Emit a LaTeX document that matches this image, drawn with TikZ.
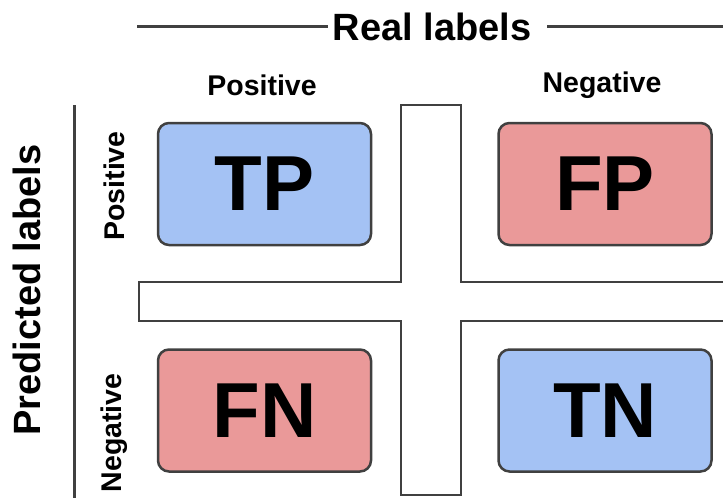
\documentclass[tikz,border=0pt]{standalone}
\usepackage{fontspec}
\setmainfont{Liberation Sans}
\definecolor{bluefill}{HTML}{A4C2F4}
\definecolor{redfill}{HTML}{EA9999}
\definecolor{strokec}{HTML}{404040}
\begin{document}
\begin{tikzpicture}[x=1pt,y=-1pt,
  cell/.style={draw=strokec,line width=2.5pt,rounded corners=11pt,minimum width=213pt,minimum height=122pt,inner sep=0pt,font=\fontsize{78}{80}\selectfont\bfseries},
  head/.style={font=\fontsize{38}{40}\selectfont\bfseries,inner sep=0pt},
  sub/.style={font=\fontsize{28.5}{30}\selectfont\bfseries,inner sep=0pt},
  rule/.style={draw=strokec,line width=3pt}]
\useasboundingbox (0,0) rectangle (723,498);
% cross
\draw[draw=strokec,line width=2.5pt,fill=white]
  (401,105) -- (461,105) -- (461,282) -- (724,282) -- (724,321) -- (461,321)
  -- (461,495) -- (401,495) -- (401,321) -- (139,321) -- (139,282) -- (401,282) -- cycle;
% cells
\node[cell,fill=bluefill] (tp) at (264.5,184) {TP};
\node[cell,fill=redfill] (fp) at (605,184) {FP};
\node[cell,fill=redfill] (fn) at (264.5,410.5) {FN};
\node[cell,fill=bluefill] (tn) at (605,410.5) {TN};
% headings
\node[head] (real) at (432,27) {Real labels};
\coordinate (rl1) at (137,26);
\coordinate (rr1) at (724,26);
\draw[rule] (rl1) -- ([xshift=-5pt]real.west |- rl1);
\draw[rule] ([xshift=16pt]real.east |- rr1) -- (rr1);
\node[sub] (cpos) at (262,85) {Positive};
\node[sub] (cneg) at (602,85) {Negative};
\node[head,rotate=90] (pred) at (27,290) {Predicted labels};
\node[sub,rotate=90] (rpos) at (114,186) {Positive};
\node[sub,rotate=90] (rneg) at (114,433) {Negative};
\coordinate (vt) at (74,105);
\coordinate (vb) at (74,499);
\draw[rule] (vt) -- (vb);
\end{tikzpicture}
\end{document}
